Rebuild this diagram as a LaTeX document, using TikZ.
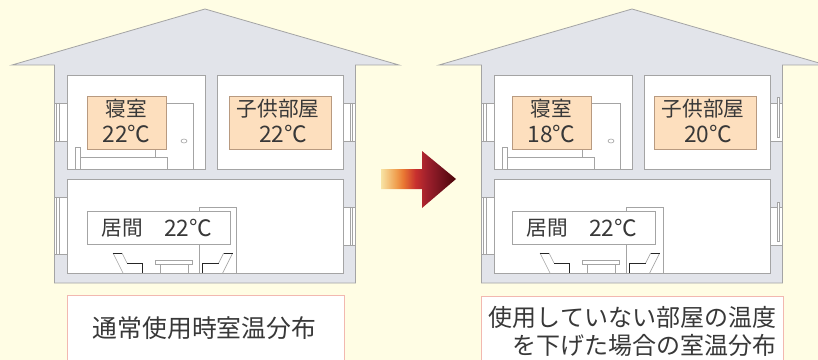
\documentclass[tikz,border=0pt]{standalone}
\usepackage{fontspec}
\newfontfamily\jp{Noto Sans CJK JP}
\definecolor{bg}{HTML}{FFFDE4}
\definecolor{wall}{HTML}{E2E4EA}
\definecolor{edge}{HTML}{A4A4A4}
\definecolor{tag}{HTML}{FDDFBE}
\definecolor{tagedge}{HTML}{B89A80}
\definecolor{ink}{HTML}{383838}
\definecolor{capedge}{HTML}{F2B8B0}
\definecolor{g1}{HTML}{F7E3A4}
\definecolor{g2}{HTML}{F0A050}
\definecolor{g3}{HTML}{E87632}
\definecolor{g4}{HTML}{C8302E}
\definecolor{g5}{HTML}{9C1F2C}
\definecolor{g6}{HTML}{70121C}
\definecolor{g7}{HTML}{4A0408}
\pgfdeclarehorizontalshading{arrowgrad}{100bp}{color(0bp)=(g1); color(25bp)=(g1);
  color(35bp)=(g2); color(40bp)=(g3); color(48bp)=(g4); color(56bp)=(g5);
  color(66bp)=(g6); color(75bp)=(g7); color(100bp)=(g7)}
\tikzset{
  wallline/.style={draw=edge, line width=0.6pt},
  room/.style={fill=white, draw=edge, line width=0.6pt},
  thinline/.style={draw=edge, line width=0.45pt},
  sofaline/.style={draw=black!85, line width=0.75pt},
  tagbox/.style={fill=tag, draw=tagedge, line width=0.6pt},
  livebox/.style={fill=white, draw=edge, line width=0.6pt},
  captionbox/.style={fill=white, draw=capedge, line width=0.7pt},
  kanji/.style={text=ink, font=\jp\fontsize{15.5pt}{17pt}\selectfont, inner sep=0pt},
  degree/.style={text=ink, font=\jp\fontsize{17pt}{19pt}\selectfont, inner sep=0pt},
  captiontext/.style={text=ink, font=\jp\fontsize{18.6pt}{22pt}\selectfont, inner sep=0pt},
}
% walls, roof, rooms and furniture shared by both houses
\newcommand\housebody{%
  \draw[wallline, fill=wall] (12,65) -- (205,9) -- (399,65) -- (355.5,65)
    -- (355.5,283) -- (54.5,283) -- (54.5,65) -- cycle;
  \draw[room] (67,75) rectangle (205,169);
  \draw[room] (217,75) rectangle (343,169);
  \draw[room] (67,179) rectangle (343,273);
  % windows on the left wall
  \foreach \ya/\yb in {103/141, 197/254}{
    \draw[thinline, fill=white] (54.5,\ya) rectangle (67,\yb);
    \draw[thinline] (56.7,\ya) -- (56.7,\yb) (59.3,\ya) -- (59.3,\yb);
  }
  % bedroom door and bed
  \draw[thinline] (160,103) -- (193,103) -- (193,169);
  \draw[thinline] (184,141) ellipse [x radius=3, y radius=2];
  \draw[thinline] (75,169) -- (75,147) -- (80,147) -- (80,169);
  \draw[thinline] (80,157) -- (167,157) -- (167,169);
  \draw[thinline] (155,145) -- (155,157);
  % living room door
  \draw[thinline] (199,273) -- (199,207) -- (236,207) -- (236,273);
  % sofas and table
  \draw[thinline] (113,253) -- (123,273);
  \draw[thinline] (122,253) -- (127,263);
  \draw[sofaline] (113,253) -- (122,253);
  \draw[sofaline] (127,263) -- (142.5,263) -- (142.5,273);
  \draw[thinline] (232.7,253) -- (222.7,273);
  \draw[thinline] (223.7,253) -- (218.7,263);
  \draw[sofaline] (232.7,253) -- (223.7,253);
  \draw[sofaline] (218.7,263) -- (202.7,263) -- (202.7,273);
  \draw[thinline] (155.7,260) rectangle (192.3,264.3);
  \draw[thinline] (160.7,264.3) -- (160.7,273) (188.3,264.3) -- (188.3,273);
}
\begin{document}
\begin{tikzpicture}[x=0.75pt, y=-0.75pt]
  \useasboundingbox (0,0) rectangle (818,360);
  \clip (0,0) rectangle (818,360);
  \fill[bg] (0,0) rectangle (818,360);

  % ---- house in normal use ----
  \housebody
  \foreach \ya/\yb in {103/141, 207/245}{
    \draw[thinline, fill=white] (343,\ya) rectangle (355.5,\yb);
    \draw[thinline] (350.7,\ya) -- (350.7,\yb) (352.3,\ya) -- (352.3,\yb);
  }
  \draw[tagbox] (87,96) rectangle (166,149);
  \node[kanji] (bedA) at (126,109) {寝室};
  \node[degree] (bedAt) at (126.5,134) {22℃};
  \draw[tagbox] (229,96) rectangle (331,149);
  \node[kanji] (kidA) at (278,109) {子供部屋};
  \node[degree] (kidAt) at (283,134) {22℃};
  \draw[livebox] (87,211) rectangle (230,244);
  \node[kanji] (liveA) at (122,228) {居間};
  \node[degree] (liveAt) at (188,228) {22℃};

  % ---- house with unused rooms cooled ----
  \begin{scope}[shift={(427,0)}]
    \housebody
    \foreach \ya/\yb/\sa/\sb in {103/141/97/137, 207/245/202/241}{
      \draw[thinline, fill=white] (343,\ya) rectangle (355.5,\yb);
      \draw[thinline, fill=white] (350,\sa) rectangle (352.3,\sb);
    }
    \begin{scope}[shift={(-2,0)}]
      \draw[tagbox] (87,96) rectangle (166,149);
      \node[kanji] (bedB) at (126,109) {寝室};
      \node[degree] (bedBt) at (126.5,134) {18℃};
      \draw[tagbox] (229,96) rectangle (331,149);
      \node[kanji] (kidB) at (278,109) {子供部屋};
      \node[degree] (kidBt) at (283,134) {20℃};
      \draw[livebox] (87,211) rectangle (230,244);
      \node[kanji] (liveB) at (122,228) {居間};
      \node[degree] (liveBt) at (188,228) {22℃};
    \end{scope}
  \end{scope}

  % ---- arrow between the houses ----
  \shade[shading=arrowgrad] (381,169) -- (422,169) -- (422,151) -- (456,179)
    -- (422,208) -- (422,189) -- (381,189) -- cycle;

  % ---- captions ----
  \draw[captionbox] (67,295) rectangle (344,370);
  \node[captiontext] (capA) at (204.5,328) {通常使用時室温分布};
  \draw[captionbox] (481,296) rectangle (783,370);
  \node[captiontext, font=\jp\fontsize{18pt}{22pt}\selectfont] (capB1) at (632.5,317) {使用していない部屋の温度};
  \node[captiontext, font=\jp\fontsize{18pt}{22pt}\selectfont, anchor=east] (capB2) at (777,345) {を下げた場合の室温分布};
\end{tikzpicture}
\end{document}
